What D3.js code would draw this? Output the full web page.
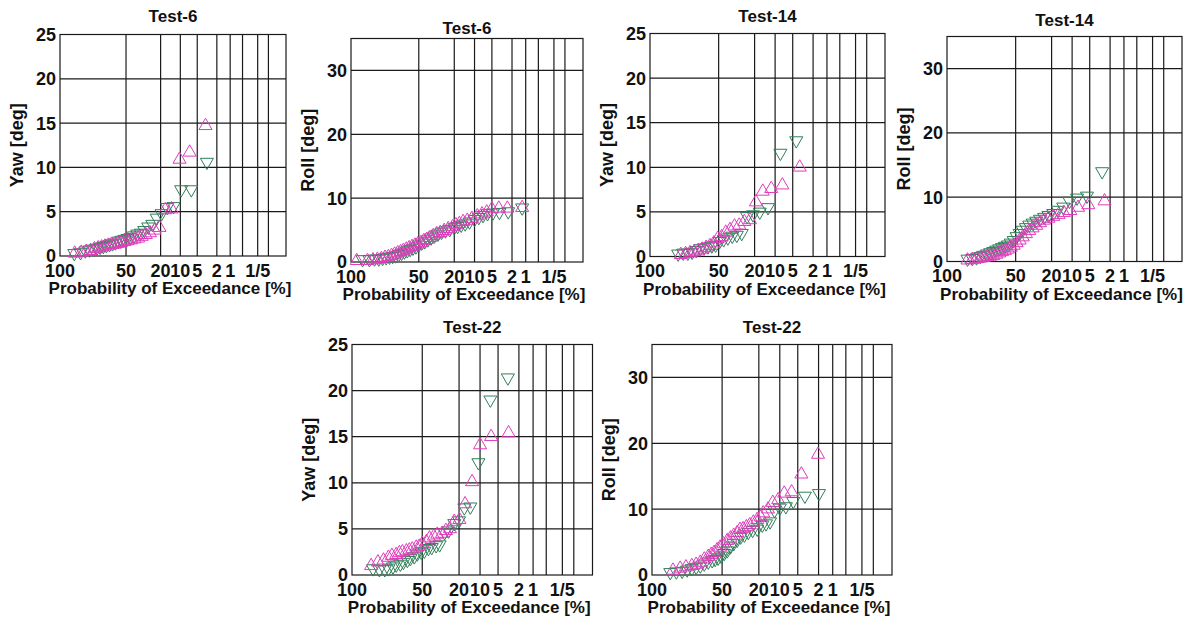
<!DOCTYPE html>
<html>
<head>
<meta charset="utf-8">
<script src="https://cdn.jsdelivr.net/npm/d3@7"></script>
<style>
  body { margin: 0; background: #fff; }
  text { font-family: "Liberation Sans", Arial, sans-serif; font-weight: bold; fill: #111; }
</style>
</head>
<body>
<svg id="chart" width="1189" height="623"></svg>
<script>
// probability axis (exceedance, %)
var pctTicks = [100, 50, 20, 10, 5, 2, 1, 0.2];
var pctLabels = ["100", "50", "20", "10", "5", "2", "1", "1/5"];
var pctGrid = [50, 20, 10, 5, 2, 1, 0.5, 0.2, 0.1];
var yawTicks = [0, 5, 10, 15, 20, 25];
var rollTicks = [0, 10, 20, 30];

// Test-6 yaw
var t6yawUpP = [3.45, 6.9, 10.3, 13.8, 17.2, 20.7, 24.1, 27.6, 31, 34.5, 37.9, 41.4, 44.8, 48.3, 51.7, 55.2, 58.6, 62.1, 65.5, 69, 72.4, 75.9, 79.3, 82.8, 86.2, 89.7, 93.1, 96.6];
var t6yawUpY = [14.7, 11.7, 10.9, 5.3, 5.2, 3.2, 2.9, 2.6, 2.4, 2.2, 2.0, 1.9, 1.8, 1.7, 1.6, 1.5, 1.4, 1.3, 1.3, 1.2, 1.1, 1.0, 0.9, 0.8, 0.6, 0.5, 0.4, 0.3];
var t6yawDnP = [3.23, 6.45, 9.68, 12.9, 16.1, 19.4, 22.6, 25.8, 29, 32.3, 35.5, 38.7, 41.9, 45.2, 48.4, 51.6, 54.8, 58.1, 61.3, 64.5, 67.7, 71, 74.2, 77.4, 80.6, 83.9, 87.1, 90.3, 93.5, 96.8];
var t6yawDnY = [10.6, 7.5, 7.5, 5.6, 5.5, 4.8, 4.3, 3.6, 3.3, 2.9, 2.6, 2.5, 2.3, 2.1, 2.0, 1.9, 1.8, 1.7, 1.5, 1.4, 1.3, 1.2, 1.1, 1.0, 0.9, 0.8, 0.7, 0.6, 0.4, 0.3];

// Test-6 roll
var t6rollUpP = [1.2, 2.5, 3.7, 5, 6.2, 7.5, 9, 11, 13, 15, 17, 19, 21, 24, 27, 30, 33, 36, 39, 42, 45, 48, 51, 54, 57, 60, 63, 66, 69, 72, 75, 78, 81, 84, 87, 90, 93, 96, 99.5];
var t6rollUpY = [8.5, 8.4, 8.4, 8.3, 7.8, 7.5, 7.2, 6.8, 6.5, 6.3, 6.0, 5.8, 5.5, 5.2, 4.9, 4.6, 4.4, 4.1, 3.8, 3.5, 3.3, 3.0, 2.8, 2.6, 2.4, 2.2, 2.0, 1.8, 1.6, 1.4, 1.2, 1.0, 0.8, 0.7, 0.5, 0.4, 0.3, 0.2, 0.2];
var t6rollDnP = [1.2, 2.4, 3.6, 4.8, 6, 7.2, 8.5, 10, 12, 14, 16, 18, 20, 23, 26, 29, 32, 35, 38, 41, 44, 47, 50, 53, 56, 59, 62, 65, 68, 71, 74, 77, 80, 83, 86, 89, 92, 95, 98];
var t6rollDnY = [8.5, 7.9, 7.8, 7.7, 7.6, 7.3, 7.0, 6.7, 6.3, 6.0, 5.8, 5.6, 5.4, 5.1, 4.9, 4.7, 4.4, 4.1, 3.8, 3.5, 3.2, 3.0, 2.7, 2.4, 2.2, 2.0, 1.8, 1.6, 1.4, 1.2, 1.0, 0.9, 0.8, 0.7, 0.6, 0.5, 0.5, 0.4, 0.4];

// Test-14 yaw
var t14yawUpP = [3.7, 7.6, 11.5, 15.4, 19.2, 23, 27, 31, 35, 39, 43, 47, 51, 55, 59, 63, 67, 71, 75, 79, 83, 87];
var t14yawUpY = [10.0, 8.0, 7.6, 7.3, 6.1, 4.1, 3.9, 3.5, 3.4, 3.0, 2.7, 2.2, 2.0, 1.5, 1.2, 1.0, 0.8, 0.6, 0.5, 0.4, 0.3, 0.2];
var t14yawDnP = [4.3, 8.2, 12.9, 17, 21, 25, 29, 33, 37, 41, 45, 49, 53, 57, 61, 65, 69, 73, 77, 81, 85, 89];
var t14yawDnY = [13.0, 11.6, 5.5, 5.0, 4.7, 4.5, 2.6, 2.4, 2.3, 2.1, 1.9, 1.7, 1.3, 1.2, 1.1, 1.0, 0.9, 0.7, 0.5, 0.4, 0.4, 0.3];

// Test-14 roll
var t14rollUpP = [2.6, 5.3, 8, 10.7, 13.4, 16, 19, 22, 25, 28, 31, 34, 37, 40, 43, 46, 49, 52, 55, 58, 61, 64, 67, 70, 73, 76, 79, 82, 85, 88, 91, 94];
var t14rollUpY = [9.4, 8.8, 8.4, 7.9, 7.6, 7.3, 7.0, 6.7, 6.4, 6.0, 5.6, 5.2, 4.8, 4.3, 3.8, 3.3, 2.9, 2.5, 2.2, 1.9, 1.7, 1.5, 1.3, 1.1, 0.9, 0.8, 0.7, 0.6, 0.5, 0.4, 0.3, 0.2];
var t14rollDnP = [2.9, 5.6, 8.3, 11, 13.7, 16.4, 19, 22, 25, 28, 31, 34, 37, 40, 43, 46, 49, 52, 55, 58, 61, 64, 67, 70, 73, 76, 79, 82, 85, 88, 91, 94];
var t14rollDnY = [14.0, 10.2, 9.9, 9.4, 8.5, 8.0, 7.5, 7.2, 6.9, 6.6, 6.3, 6.0, 5.7, 5.3, 4.9, 4.4, 3.9, 3.3, 2.9, 2.6, 2.4, 2.2, 2.0, 1.8, 1.6, 1.4, 1.2, 1.0, 0.8, 0.6, 0.5, 0.4];

// Test-22 yaw
var t22yawUpP = [3.2, 6.6, 10, 13.2, 16.6, 19.8, 23, 26, 29, 32, 36, 39, 43, 46, 50, 53, 56, 60, 63, 66, 70, 73, 76, 80, 83, 87, 91, 95];
var t22yawUpY = [15.4, 15.0, 14.1, 10.1, 7.7, 6.0, 5.8, 5.0, 4.8, 4.5, 4.4, 4.2, 4.0, 3.6, 3.4, 3.1, 3.0, 2.8, 2.7, 2.6, 2.5, 2.4, 2.2, 2.1, 1.9, 1.6, 1.4, 1.0];
var t22yawDnP = [3.3, 6.8, 10.6, 14, 17, 20, 23, 27, 30, 34, 37, 41, 44, 48, 51, 55, 58, 62, 65, 69, 72, 76, 79, 83, 86, 90, 94];
var t22yawDnY = [21.4, 19.0, 12.2, 7.4, 7.3, 5.9, 5.6, 4.8, 4.6, 3.3, 3.2, 3.0, 2.9, 2.6, 2.5, 2.3, 2.0, 1.8, 1.6, 1.4, 1.2, 1.1, 0.9, 0.7, 0.6, 0.6, 0.7];

// Test-22 roll
var t22rollUpP = [2.05, 4.3, 6.4, 8.5, 10.6, 12.8, 15, 17.5, 19, 21, 23.5, 26, 28.5, 31, 33.6, 36, 39, 42, 45, 48.8, 52, 55, 58, 61, 64, 68, 72, 76, 80, 85, 89.4, 94];
var t22rollUpY = [18.3, 15.3, 12.6, 12.4, 11.4, 11.0, 10.0, 9.4, 8.8, 8.4, 8.0, 7.6, 7.3, 7.0, 6.9, 6.4, 6.0, 5.6, 5.2, 4.7, 4.2, 3.8, 3.4, 3.1, 2.8, 2.4, 1.9, 1.6, 1.4, 1.2, 1.0, 0.7];
var t22rollDnP = [1.96, 3.7, 6, 8, 10, 12, 14, 16, 18, 21, 24, 27, 30, 33, 36, 39, 42, 45, 48, 51, 54, 57, 60, 64, 68, 72, 76, 80, 84, 88, 92, 95.4];
var t22rollDnY = [12.4, 12.0, 11.2, 10.4, 10.2, 9.8, 8.1, 7.8, 7.6, 7.0, 6.8, 6.5, 6.1, 5.8, 5.3, 4.8, 4.3, 3.7, 3.3, 2.9, 2.6, 2.4, 2.2, 2.0, 1.7, 1.4, 1.2, 1.0, 0.8, 0.6, 0.5, 0.4];

var upColor = "#e03cbc", dnColor = "#2f8058";

var panels = [
  {title: "Test-6", ylab: "Yaw [deg]", ymax: 25, yt: yawTicks, l: 60, t: 34.5, r: 286, b: 256, ty: 22,
   up: [t6yawUpP, t6yawUpY], dn: [t6yawDnP, t6yawDnY]},
  {title: "Test-6", ylab: "Roll [deg]", ymax: 35, yt: rollTicks, l: 351, t: 38.5, r: 583, b: 262, ty: 33.5,
   up: [t6rollUpP, t6rollUpY], dn: [t6rollDnP, t6rollDnY]},
  {title: "Test-14", ylab: "Yaw [deg]", ymax: 25, yt: yawTicks, l: 650, t: 33.5, r: 885, b: 256.5, ty: 21.5,
   up: [t14yawUpP, t14yawUpY], dn: [t14yawDnP, t14yawDnY]},
  {title: "Test-14", ylab: "Roll [deg]", ymax: 35, yt: rollTicks, l: 947, t: 36.5, r: 1182, b: 261.5, ty: 26,
   up: [t14rollUpP, t14rollUpY], dn: [t14rollDnP, t14rollDnY]},
  {title: "Test-22", ylab: "Yaw [deg]", ymax: 25, yt: yawTicks, l: 352, t: 344.5, r: 592.5, b: 575, ty: 332.5,
   up: [t22yawUpP, t22yawUpY], dn: [t22yawDnP, t22yawDnY]},
  {title: "Test-22", ylab: "Roll [deg]", ymax: 35, yt: rollTicks, l: 652, t: 344.5, r: 892, b: 575, ty: 333,
   up: [t22rollUpP, t22rollUpY], dn: [t22rollDnP, t22rollDnY]}
];

var svg = d3.select("#chart");
svg.append("rect").attr("width", 1189).attr("height", 623).style("fill", "#fff");

var tri = d3.symbol().type(d3.symbolTriangle).size(74);

panels.forEach(function(p) {
  var w = p.r - p.l, h = p.b - p.t;
  // Rayleigh probability paper: position ~ sqrt(-ln P)
  var x = d3.scaleRadial().domain([0, 2.85 * 2.85]).range([0, w]);
  var xp = function(pct) { return x(-Math.log(pct / 100)); };
  var y = d3.scaleLinear().domain([0, p.ymax]).range([h, 0]);

  var g = svg.append("g").attr("transform", "translate(" + p.l + "," + p.t + ")");

  // grid
  g.selectAll(".vg").data(pctGrid).enter().append("line")
    .attr("x1", xp).attr("x2", xp).attr("y1", 0).attr("y2", h)
    .style("stroke", "#1a1a1a").style("stroke-width", 1.2);
  g.selectAll(".hg").data(p.yt.filter(function(d) { return d > 0; })).enter().append("line")
    .attr("x1", 0).attr("x2", w).attr("y1", y).attr("y2", y)
    .style("stroke", "#1a1a1a").style("stroke-width", 1.2);
  g.append("rect").attr("width", w).attr("height", h)
    .style("fill", "none").style("stroke", "#1a1a1a").style("stroke-width", 1.2);

  // tick labels
  g.selectAll(".yl").data(p.yt).enter().append("text")
    .attr("x", -4).attr("y", y).attr("dy", "0.36em")
    .attr("text-anchor", "end").style("font-size", "18px").text(String);
  g.selectAll(".xl").data(pctTicks).enter().append("text")
    .attr("x", xp).attr("y", h + 20.5)
    .attr("text-anchor", "middle").style("font-size", "18px")
    .text(function(d, i) { return pctLabels[i]; });

  // labels
  g.append("text").attr("x", w / 2 - 3).attr("y", h + 38)
    .attr("text-anchor", "middle").style("font-size", "17px")
    .text("Probability of Exceedance [%]");
  g.append("text").attr("transform", "translate(-37," + (h / 2) + ") rotate(-90)")
    .attr("text-anchor", "middle").style("font-size", "18px").text(p.ylab);
  svg.append("text").attr("x", p.l + w / 2).attr("y", p.ty)
    .attr("text-anchor", "middle").style("font-size", "17px").text(p.title);

  // markers
  g.selectAll(".dn").data(p.dn[0]).enter().append("path")
    .attr("d", tri)
    .attr("transform", function(d, i) { return "translate(" + xp(d) + "," + y(p.dn[1][i]) + ") rotate(180)"; })
    .style("fill", "none").style("stroke", dnColor).style("stroke-width", 1);
  g.selectAll(".up").data(p.up[0]).enter().append("path")
    .attr("d", tri)
    .attr("transform", function(d, i) { return "translate(" + xp(d) + "," + y(p.up[1][i]) + ")"; })
    .style("fill", "none").style("stroke", upColor).style("stroke-width", 1);
});
</script>
</body>
</html>
